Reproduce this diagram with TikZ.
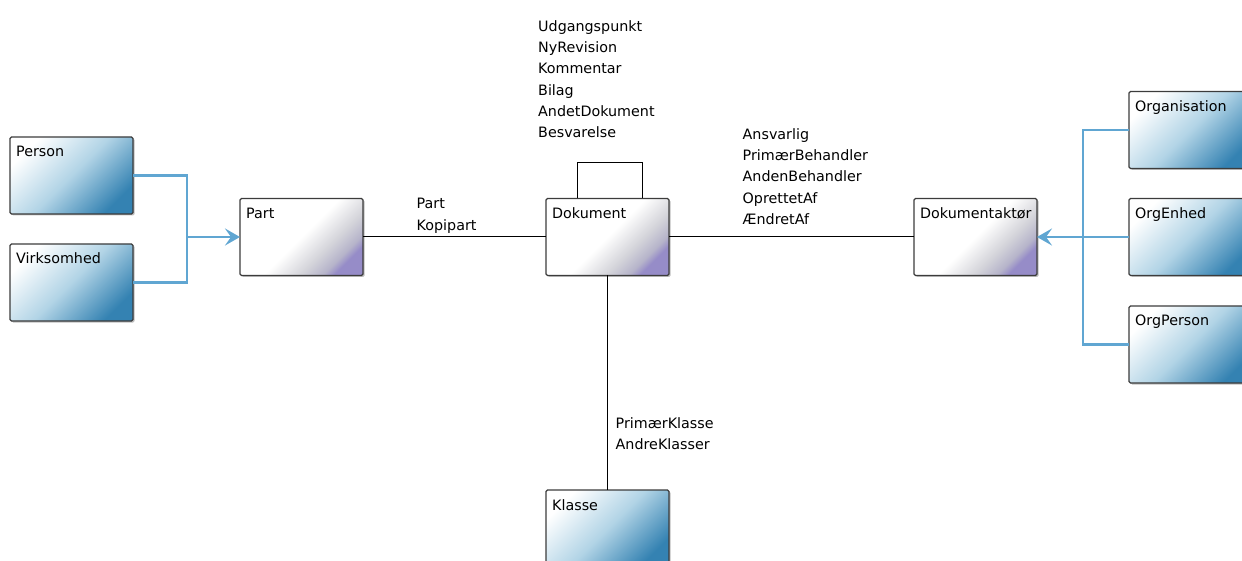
\documentclass[tikz,border=0pt]{standalone}
\usepackage{fontspec}
\setmainfont{DejaVu Sans}
\usetikzlibrary{arrows.meta,shadows}
\definecolor{boxdark}{RGB}{52,130,178}
\definecolor{boxmid}{RGB}{178,212,230}
\definecolor{linkblue}{RGB}{96,166,210}
\definecolor{edgegray}{RGB}{60,60,60}
\definecolor{lav}{RGB}{150,140,200}
\definecolor{wgray}{RGB}{212,212,218}
\definecolor{wgraydark}{RGB}{182,180,202}
\pgfdeclareverticalshading{bluecorner}{100bp}{color(0bp)=(boxdark); color(25bp)=(boxdark); color(50bp)=(boxmid); color(75bp)=(white); color(100bp)=(white)}
\pgfdeclareverticalshading{whitecorner}{100bp}{color(0bp)=(lav); color(25bp)=(lav); color(29bp)=(wgraydark); color(37bp)=(wgray); color(50bp)=(white); color(100bp)=(white)}
\newcommand{\lblfont}{\fontsize{14.3}{21.2}\selectfont}
\begin{document}
\begin{tikzpicture}[x=1pt,y=-1pt,
  box/.style={draw=edgegray, line width=1.3pt, rounded corners=1.5pt,
    minimum width=123pt, minimum height=77pt, inner sep=0pt, outer sep=0pt,
    drop shadow={shadow xshift=1.5pt, shadow yshift=-1.5pt, opacity=0.25, fill=black},
    label={[anchor=base west, inner sep=0pt, font=\lblfont, xshift=6pt, yshift=-20pt]north west:#1}},
  bluebox/.style={box=#1, shading=bluecorner, shading angle=45},
  whitebox/.style={box=#1, shading=whitecorner, shading angle=45},
  assoc/.style={draw=black, line width=1pt},
  gen/.style={draw=linkblue, line width=2.8pt},
  genarrow/.style={gen, -{Stealth[length=15pt, width=17pt, inset=6pt]}},
  txt/.style={anchor=base west, inner sep=0pt, align=left, font=\lblfont}
]
\useasboundingbox (0,0) rectangle (1242,561);

% boxes
\node[bluebox=Person] (person) at (71.5,175.5) {};
\node[bluebox=Virksomhed] (virk) at (71.5,282.5) {};
\node[whitebox=Part] (part) at (301.5,237) {};
\node[whitebox=Dokument] (dok) at (607.5,237) {};
\node[whitebox=Dokumentaktør] (aktor) at (975.5,237) {};
\node[bluebox=Organisation] (org) at (1190.5,130) {};
\node[bluebox=OrgEnhed] (enhed) at (1190.5,237) {};
\node[bluebox=OrgPerson] (orgp) at (1190.5,344.5) {};
\node[bluebox=Klasse] (klasse) at (607.5,528.5) {};

% left generalisation tree
\coordinate (lj) at (187,237);
\draw[gen] (person.east) -| (lj) |- (virk.east);
\draw[genarrow] (lj) -- (part.west);

% right generalisation tree
\coordinate (rj) at (1083,237);
\draw[gen] (org.west) -| (rj) |- (orgp.west);
\draw[genarrow] (enhed.west) -- (aktor.east);

% associations
\draw[assoc] (part.east) -- (dok.west);
\draw[assoc] (dok.east) -- (aktor.west);
\draw[assoc] (dok.south) -- (klasse.north);
\coordinate (sl2) at (642,163);
\draw[assoc] (dok.north west) ++(31pt,0) |- (sl2) -- (sl2 |- dok.north);

% labels (anchored at the baseline of the last line)
\node[txt] (selfl) at (538,137.5) {Udgangspunkt\\NyRevision\\Kommentar\\Bilag\\AndetDokument\\Besvarelse};
\node[txt] (partl) at (416.5,230.2) {Part\\Kopipart};
\node[txt] (aktl) at (742.5,224.3) {Ansvarlig\\PrimærBehandler\\AndenBehandler\\OprettetAf\\ÆndretAf};
\node[txt] (klal) at (615.5,449.7) {PrimærKlasse\\AndreKlasser};
\end{tikzpicture}
\end{document}
